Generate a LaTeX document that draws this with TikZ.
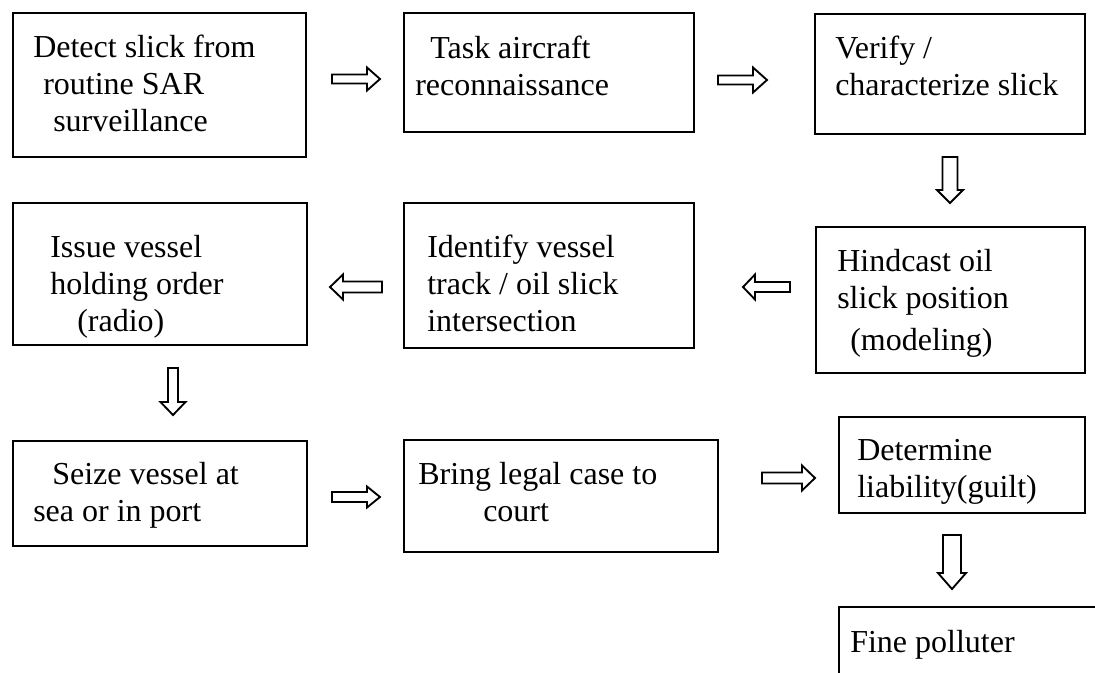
\documentclass[tikz,border=0pt]{standalone}
\usepackage{fontspec}
\setmainfont{Liberation Serif}
\usetikzlibrary{calc,fit}
\tikzset{
  bsw/.code={\pgfmathsetmacro\barsw{#1*0.75}},
  bhw/.code={\pgfmathsetmacro\barhw{#1*0.75}},
  bhl/.code={\pgfmathsetmacro\barhl{#1*0.75}},
  box/.style={draw, line width=1.6pt, inner sep=0pt},
  txt/.style={inner sep=0pt, anchor=base west, font=\fontsize{24}{27.75}\selectfont},
  blockarrow/.style={draw, line width=1.4pt, line join=miter, bsw=5, bhw=12, bhl=13,
    to path={($(\tikztotarget)!\barhl pt!(\tikztostart)$) coordinate (barh)
      ($(\tikztostart)!\barsw pt!90:(\tikztotarget)$) -- ($(barh)!\barsw pt!90:(\tikztotarget)$)
      -- ($(barh)!\barhw pt!90:(\tikztotarget)$) -- (\tikztotarget)
      -- ($(barh)!\barhw pt!-90:(\tikztotarget)$) -- ($(barh)!\barsw pt!-90:(\tikztotarget)$)
      -- ($(\tikztostart)!\barsw pt!-90:(\tikztotarget)$) -- cycle}}
}
\begin{document}
\begin{tikzpicture}[x=0.75pt,y=-0.75pt]
\useasboundingbox[fill=white] (0,0) rectangle (1095,672);
% boxes
\node[box, fit={(13,13) (306,157)}] (b1) {};
\node[box, fit={(404,13) (694,132)}] (b2) {};
\node[box, fit={(815,14) (1085,134)}] (b3) {};
\node[box, fit={(13,203) (307,345)}] (b4) {};
\node[box, fit={(404,203) (694,348)}] (b5) {};
\node[box, fit={(816,227) (1085,373)}] (b6) {};
\node[box, fit={(13,441) (307,546)}] (b7) {};
\node[box, fit={(404,440) (718,552)}] (b8) {};
\node[box, fit={(839,417) (1085,513)}] (b9) {};
\node[box, fit={(839,607) (1120,700)}] (b10) {};
% texts
\node[txt] (t1) at (33,57) {\begin{tabular}[t]{@{}l@{}}Detect slick from\\ \hspace*{7.5pt}routine SAR\\ \hspace*{15pt}surveillance\end{tabular}};
\node[txt] (t2) at (415,58) {\begin{tabular}[t]{@{}l@{}}\hspace*{11.25pt}Task aircraft\\ reconnaissance\end{tabular}};
\node[txt] (t3) at (835,58) {\begin{tabular}[t]{@{}l@{}}Verify /\\ characterize slick\end{tabular}};
\node[txt] (t4) at (50,257) {\begin{tabular}[t]{@{}l@{}}Issue vessel\\ holding order\\ \hspace*{20.25pt}(radio)\end{tabular}};
\node[txt] (t5) at (427,257) {\begin{tabular}[t]{@{}l@{}}Identify vessel\\ track / oil slick\\ intersection\end{tabular}};
\node[txt] (t6) at (837,271) {\begin{tabular}[t]{@{}l@{}}Hindcast oil\\ slick position\\[4pt] \hspace*{9.75pt}(modeling)\end{tabular}};
\node[txt] (t7) at (33,484) {\begin{tabular}[t]{@{}l@{}}\hspace*{14.25pt}Seize vessel at\\ sea or in port\end{tabular}};
\node[txt] (t8) at (418,484) {\begin{tabular}[t]{@{}l@{}}Bring legal case to\\ \hspace*{48.75pt}court\end{tabular}};
\node[txt] (t9) at (857,460) {\begin{tabular}[t]{@{}l@{}}Determine\\ liability(guilt)\end{tabular}};
\node[txt] (t10) at (850,652) {Fine polluter};
% arrow end points
\coordinate (a12s) at (332,79);  \coordinate (a12e) at (380,79);
\coordinate (a23s) at (718,80);  \coordinate (a23e) at (767,80);
\coordinate (a36s) at (950,157); \coordinate (a36e) at (950,203);
\coordinate (a65s) at (790,287); \coordinate (a65e) at (743,287);
\coordinate (a54s) at (382,287); \coordinate (a54e) at (330,287);
\coordinate (a47s) at (173,368); \coordinate (a47e) at (173,415);
\coordinate (a78s) at (332,497); \coordinate (a78e) at (380,497);
\coordinate (a89s) at (762,478); \coordinate (a89e) at (815,478);
\coordinate (a910s) at (952,535); \coordinate (a910e) at (952,589);
% arrows
\draw[blockarrow, bsw=4.5, bhw=11.5, bhl=13] (a12s) to (a12e);
\draw[blockarrow, bsw=4.5, bhw=12.5, bhl=14] (a23s) to (a23e);
\draw[blockarrow, bsw=7.5, bhw=13, bhl=13] (a36s) to (a36e);
\draw[blockarrow, bsw=5, bhw=12.5, bhl=12] (a65s) to (a65e);
\draw[blockarrow, bsw=5.5, bhw=12.5, bhl=13] (a54s) to (a54e);
\draw[blockarrow, bsw=5, bhw=12.5, bhl=13] (a47s) to (a47e);
\draw[blockarrow, bsw=5, bhw=10.5, bhl=13] (a78s) to (a78e);
\draw[blockarrow, bsw=5.5, bhw=12.5, bhl=13] (a89s) to (a89e);
\draw[blockarrow, bsw=9, bhw=14, bhl=16] (a910s) to (a910e);
\end{tikzpicture}
\end{document}
